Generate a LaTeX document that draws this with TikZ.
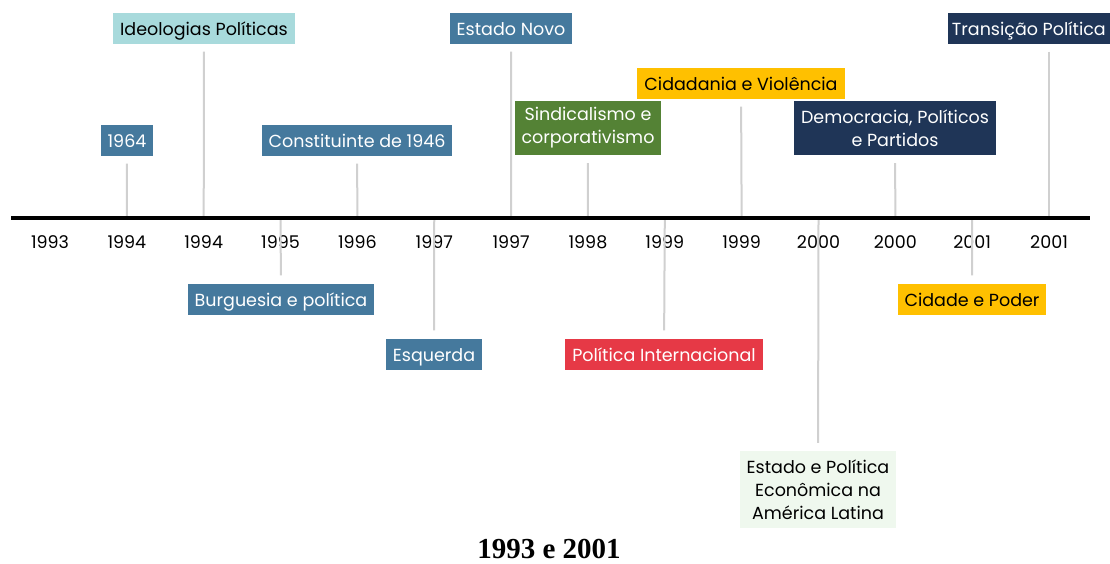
\documentclass[tikz,border=0pt]{standalone}
\usepackage{fontspec}
\setmainfont{Poppins}
\newfontfamily\titlefont{Liberation Serif}

\definecolor{steel}{HTML}{45799D}
\definecolor{teal}{HTML}{A8DADC}
\definecolor{leaf}{HTML}{548235}
\definecolor{amber}{HTML}{FFC000}
\definecolor{navy}{HTML}{1F3557}
\definecolor{crimson}{HTML}{E63946}
\definecolor{mint}{HTML}{EFF8EE}
\definecolor{stemgray}{HTML}{D0D0D0}

\begin{document}
\begin{tikzpicture}[x=1pt,y=-1pt]
  \tikzset{evt/.style = {%
      inner xsep=7pt, inner ysep=0pt,
      minimum height=31pt,
      text height=17pt, text depth=2pt,
      align=center,
      font=\fontsize{17.5}{23}\selectfont},
    darkbox/.style = {evt, fill=#1, text=white},
    lightbox/.style = {evt, fill=#1, text=black},
    multiline/.style = {text height={}, text depth={}, minimum height=#1},
    year/.style = {font=\fontsize{17.5}{20}\selectfont},
    stem/.style = {draw=stemgray, line width=2pt}}
  \clip (0,0) rectangle (1110,563);

  % ticks along the time line
  \foreach \i/\yr in {0/1993,1/1994,2/1994,3/1995,4/1996,5/1997,6/1997,
                      7/1998,8/1999,9/1999,10/2000,11/2000,12/2001,13/2001}{
    \coordinate (t\i) at (50+\i*76.85,218);
    \node[year] (y\i) at (50+\i*76.85,242) {\yr};
  }

  % above the line
  \node[darkbox=steel]  (golpe)  at (127,140)   {1964};
  \node[lightbox=teal]  (ideo)   at (204,28)    {Ideologias Políticas};
  \node[darkbox=steel]  (const)  at (357,140)   {Constituinte de 1946};
  \node[darkbox=steel]  (novo)   at (511,28)    {Estado Novo};
  \node[darkbox=leaf, multiline=54pt] (sind) at (588,128) {Sindicalismo e\\corporativismo};
  \node[lightbox=amber] (cidad)  at (741,83)    {Cidadania e Violência};
  \node[darkbox=navy, multiline=54pt] (demo) at (895,128) {Democracia, Políticos\\e Partidos};
  \node[darkbox=navy, anchor=east, inner xsep=4pt] (trans) at (1110,28) {Transição Política};

  % below the line
  \node[darkbox=steel]  (burg)   at (281,299)   {Burguesia e política};
  \node[darkbox=steel]  (esq)    at (434,354)   {Esquerda};
  \node[darkbox=crimson] (inter) at (664,354)   {Política Internacional};
  \node[lightbox=mint, multiline=77pt] (econ) at (818,489.5) {Estado e Política\\Econômica na\\América Latina};
  \node[lightbox=amber] (poder)  at (972,299)   {Cidade e Poder};

  \begin{scope}[stem, shorten <=8pt]
    \draw (golpe) -- (t1);
    \draw (ideo)  -- (t2);
    \draw (const) -- (t4);
    \draw (novo)  -- (t6);
    \draw (sind)  -- (t7);
    \draw (cidad) -- (t9);
    \draw (demo)  -- (t11);
    \draw (trans.south -| t13) -- (t13);
  \end{scope}
  \begin{scope}[stem, shorten >=8pt]
    \draw (t3)  -- (burg);
    \draw (t5)  -- (esq);
    \draw (t8)  -- (inter);
    \draw (t10) -- (econ);
    \draw (t12) -- (poder);
  \end{scope}

  \draw[line width=4pt] (11,218) -- (1090,218);

  \node[font=\titlefont\bfseries\fontsize{29}{32}\selectfont] (title) at (549,549) {1993 e 2001};
\end{tikzpicture}
\end{document}
